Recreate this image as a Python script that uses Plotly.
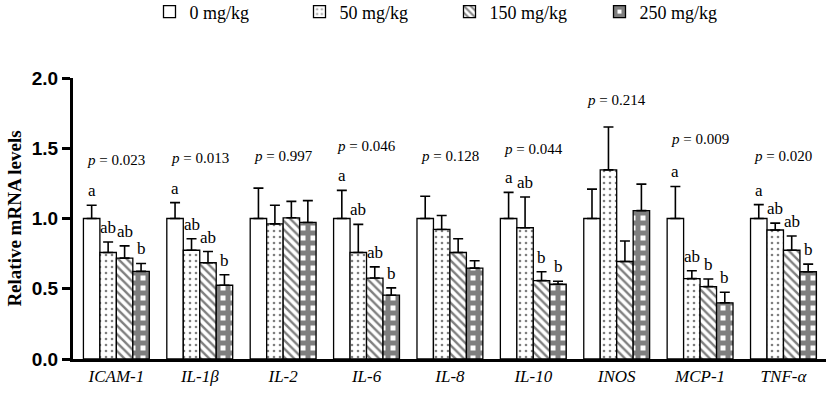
import plotly.graph_objects as go

genes = ["ICAM-1", "IL-1β", "IL-2", "IL-6", "IL-8", "IL-10", "INOS", "MCP-1", "TNF-α"]
doses = ["0 mg/kg", "50 mg/kg", "150 mg/kg", "250 mg/kg"]

mean_0 = [1.0, 1.0, 1.0, 1.0, 1.0, 1.0, 1.0, 1.0, 1.0]
mean_50 = [0.758, 0.774, 0.962, 0.758, 0.922, 0.934, 1.346, 0.572, 0.918]
mean_150 = [0.718, 0.685, 1.005, 0.576, 0.758, 0.558, 0.694, 0.515, 0.774]
mean_250 = [0.624, 0.525, 0.972, 0.454, 0.647, 0.532, 1.056, 0.400, 0.621]

se_0 = [0.094, 0.113, 0.216, 0.200, 0.158, 0.186, 0.209, 0.228, 0.099]
se_50 = [0.075, 0.082, 0.132, 0.200, 0.099, 0.219, 0.305, 0.056, 0.049]
se_150 = [0.087, 0.080, 0.117, 0.080, 0.098, 0.063, 0.146, 0.054, 0.101]
se_250 = [0.056, 0.075, 0.155, 0.052, 0.052, 0.021, 0.189, 0.075, 0.054]

letters_0 = ["a", "a", "", "a", "", "a", "", "a", "a"]
letters_50 = ["ab", "ab", "", "ab", "", "ab", "", "ab", "ab"]
letters_150 = ["ab", "ab", "", "ab", "", "b", "", "b", "ab"]
letters_250 = ["b", "b", "", "b", "", "b", "", "b", "b"]

p_values = ["0.023", "0.013", "0.997", "0.046", "0.128", "0.044", "0.214", "0.009", "0.020"]
p_label_y = [1.418, 1.432, 1.447, 1.517, 1.447, 1.496, 1.842, 1.567, 1.447]

tick_labels = ["<i>ICAM-1</i>", "<i>IL-1β</i>", "<i>IL-2</i>", "<i>IL-6</i>", "<i>IL-8</i>",
               "<i>IL-10</i>", "<i>INOS</i>", "<i>MCP-1</i>", "<i>TNF-α</i>"]

means = [mean_0, mean_50, mean_150, mean_250]
ses = [se_0, se_50, se_150, se_250]
letters = [letters_0, letters_50, letters_150, letters_250]

patterns = [
    dict(shape=""),
    dict(shape=".", fgcolor="black", bgcolor="white", size=6, solidity=0.15),
    dict(shape="\\", fgcolor="black", bgcolor="white", size=6, solidity=0.4),
    dict(shape="+", fgcolor="black", bgcolor="white", size=10, solidity=0.75),
]

SERIF = "Liberation Serif, Times New Roman, serif"
SANS = "Liberation Sans, Arial, sans-serif"

fig = go.Figure()
for i in range(4):
    fig.add_trace(go.Bar(
        x=genes, y=means[i], name=doses[i],
        marker=dict(color="white", line=dict(color="black", width=1.3), pattern=patterns[i]),
        error_y=dict(type="data", symmetric=False, array=ses[i], arrayminus=[0] * len(genes),
                     color="black", thickness=1.6, width=5),
        offsetgroup=str(i),
    ))

annotations = []
n = len(doses)
bargap = 0.21
slot = (1 - bargap) / n
for i in range(n):
    for j, g in enumerate(genes):
        t = letters[i][j]
        if not t:
            continue
        xpos = j - (1 - bargap) / 2 + slot * (i + 0.5)
        annotations.append(dict(
            x=xpos, y=means[i][j] + ses[i][j], xref="x", yref="y",
            text=t, showarrow=False, yanchor="bottom", yshift=3,
            font=dict(family=SERIF, size=17, color="black"),
        ))

for j, g in enumerate(genes):
    annotations.append(dict(
        x=j, y=p_label_y[j], xref="x", yref="y",
        text="<i>p</i> = " + p_values[j], showarrow=False,
        font=dict(family=SERIF, size=15, color="black"),
    ))

fig.update_layout(
    width=829, height=397,
    margin=dict(l=73, r=3, t=78, b=38),
    plot_bgcolor="white", paper_bgcolor="white",
    barmode="group", bargap=bargap, bargroupgap=0,
    showlegend=True,
    legend=dict(orientation="h", x=0.5, xanchor="center", y=0.97, yref="container", yanchor="middle",
                font=dict(family=SERIF, size=18, color="black"), entrywidth=105,
                traceorder="normal"),
    annotations=annotations,
    xaxis=dict(
        type="category", range=[-0.52, 8.51], tickmode="array",
        tickvals=genes, ticktext=tick_labels,
        showline=True, linecolor="black", linewidth=3, ticks="",
        tickfont=dict(family=SERIF, size=17, color="black"),
        showgrid=False, zeroline=False,
    ),
    yaxis=dict(
        range=[0, 2.0], tickvals=[0, 0.5, 1.0, 1.5, 2.0], ticktext=["0.0", "0.5", "1.0", "1.5", "2.0"],
        showline=True, linecolor="black", linewidth=3,
        ticks="outside", ticklen=8, tickwidth=3, tickcolor="black",
        tickfont=dict(family=SANS, size=19, color="black", weight="bold"),
        showgrid=False, zeroline=False,
        title=dict(text="<b>Relative mRNA levels</b>", font=dict(family=SERIF, size=19, color="black"),
                   standoff=6),
    ),
)

fig.write_html("out.html", config={"displayModeBar": False},
               post_script="document.body.style.margin='0';")
